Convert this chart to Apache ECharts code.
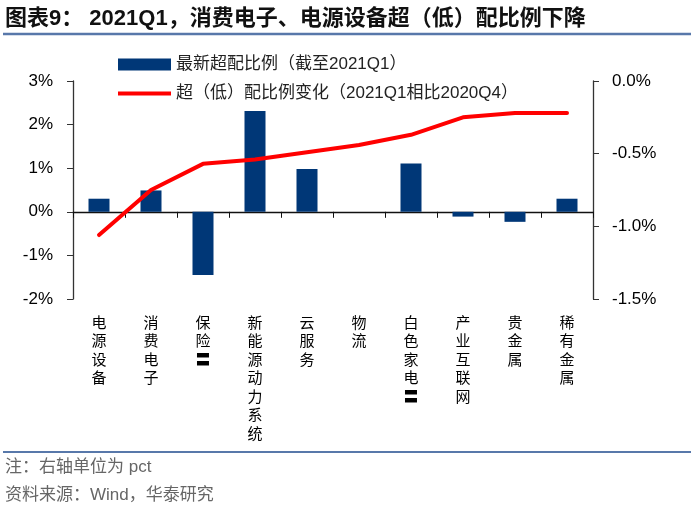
<!DOCTYPE html>
<html>
<head>
<meta charset="utf-8">
<script src="https://cdn.jsdelivr.net/npm/echarts@6/dist/echarts.min.js"></script>
<style>
html,body{margin:0;padding:0;background:#fff;}
#c{width:694px;height:522px;}
</style>
</head>
<body>
<div id="c"></div>
<script>
const categories = ['电源设备','消费电子','保险〓','新能源动力系统','云服务','物流','白色家电〓','产业互联网','贵金属','稀有金属'];
const barValues = [0.30, 0.49, -1.45, 2.31, 0.98, 0.00, 1.11, -0.11, -0.23, 0.30];
const lineValues = [-1.06, -0.75, -0.57, -0.54, -0.49, -0.44, -0.37, -0.25, -0.22, -0.22];
const leftTicks = {min: -2, max: 3, interval: 1};
const rightTicks = {min: -1.5, max: 0, interval: 0.5};
const barName = '最新超配比例（截至2021Q1）';
const lineName = '超（低）配比例变化（2021Q1相比2020Q4）';
const titleText = '图表9： 2021Q1，消费电子、电源设备超（低）配比例下降';
const note1 = '注：右轴单位为 pct';
const note2 = '资料来源：Wind，华泰研究';

const FONT = '"Liberation Sans", Arial, "Noto Sans CJK SC", sans-serif';
const chart = echarts.init(document.getElementById('c'), null, {renderer: 'canvas'});
chart.setOption({
  animation: false,
  backgroundColor: '#fff',
  textStyle: {fontFamily: FONT},
  grid: {left: 73, right: 101, top: 81, bottom: 223, containLabel: false},
  legend: {
    orient: 'vertical', left: 113, top: 51, itemGap: 12,
    itemWidth: 53, itemHeight: 12,
    textStyle: {fontSize: 17, color: '#222', fontFamily: FONT},
    data: [
      {name: barName, icon: 'rect'},
      {name: lineName, icon: 'path://M0,0L53,0L53,4L0,4Z'}
    ]
  },
  xAxis: [
    {
      type: 'category', data: categories, position: 'bottom',
      axisLine: {onZero: true, lineStyle: {color: '#111', width: 1.3}},
      axisTick: {show: true, interval: 0, length: 6, lineStyle: {color: '#111'}},
      axisLabel: {show: false}, splitLine: {show: false}
    },
    {
      type: 'category', data: categories, position: 'bottom',
      axisLine: {show: false, onZero: false}, axisTick: {show: false},
      axisLabel: {
        interval: 0, margin: 14, fontSize: 15, lineHeight: 18.5, color: '#000',
        fontFamily: '"Noto Sans CJK SC", sans-serif',
        formatter: v => v.split('').join('\n')
      }
    }
  ],
  yAxis: [
    {
      type: 'value', min: leftTicks.min, max: leftTicks.max, interval: leftTicks.interval,
      axisLine: {show: true, lineStyle: {color: '#333', width: 1.3}},
      axisTick: {show: true, length: 6, lineStyle: {color: '#333'}},
      splitLine: {show: false},
      axisLabel: {fontSize: 17, color: '#000', margin: 20, formatter: v => v + '%'}
    },
    {
      type: 'value', min: rightTicks.min, max: rightTicks.max, interval: rightTicks.interval,
      position: 'right',
      axisLine: {show: true, lineStyle: {color: '#333', width: 1.3}},
      axisTick: {show: true, length: 6, lineStyle: {color: '#333'}},
      splitLine: {show: false},
      axisLabel: {fontSize: 17, color: '#000', margin: 19, formatter: v => v.toFixed(1) + '%'}
    }
  ],
  series: [
    {
      name: barName, type: 'bar', xAxisIndex: 0, yAxisIndex: 0,
      data: barValues, barWidth: 21,
      itemStyle: {color: '#003777'}
    },
    {
      name: lineName, type: 'line', xAxisIndex: 0, yAxisIndex: 1,
      data: lineValues, symbol: 'none', z: 5,
      lineStyle: {color: '#ff0000', width: 4, cap: 'round'},
      itemStyle: {color: '#ff0000'}
    }
  ],
  graphic: [
    {type: 'text', left: 5, top: 8, style: {text: titleText, font: 'bold 22px ' + FONT, fill: '#111'}},
    {type: 'line', shape: {x1: 3, y1: 34, x2: 691, y2: 34}, style: {stroke: '#5878aa', lineWidth: 2.5}},
    {type: 'line', shape: {x1: 3, y1: 452, x2: 691, y2: 452}, style: {stroke: '#5878aa', lineWidth: 2}},
    {type: 'text', left: 5, top: 459, style: {text: note1, font: '17px ' + FONT, fill: '#666'}},
    {type: 'text', left: 5, top: 487, style: {text: note2, font: '17px ' + FONT, fill: '#666'}}
  ]
});
</script>
</body>
</html>
